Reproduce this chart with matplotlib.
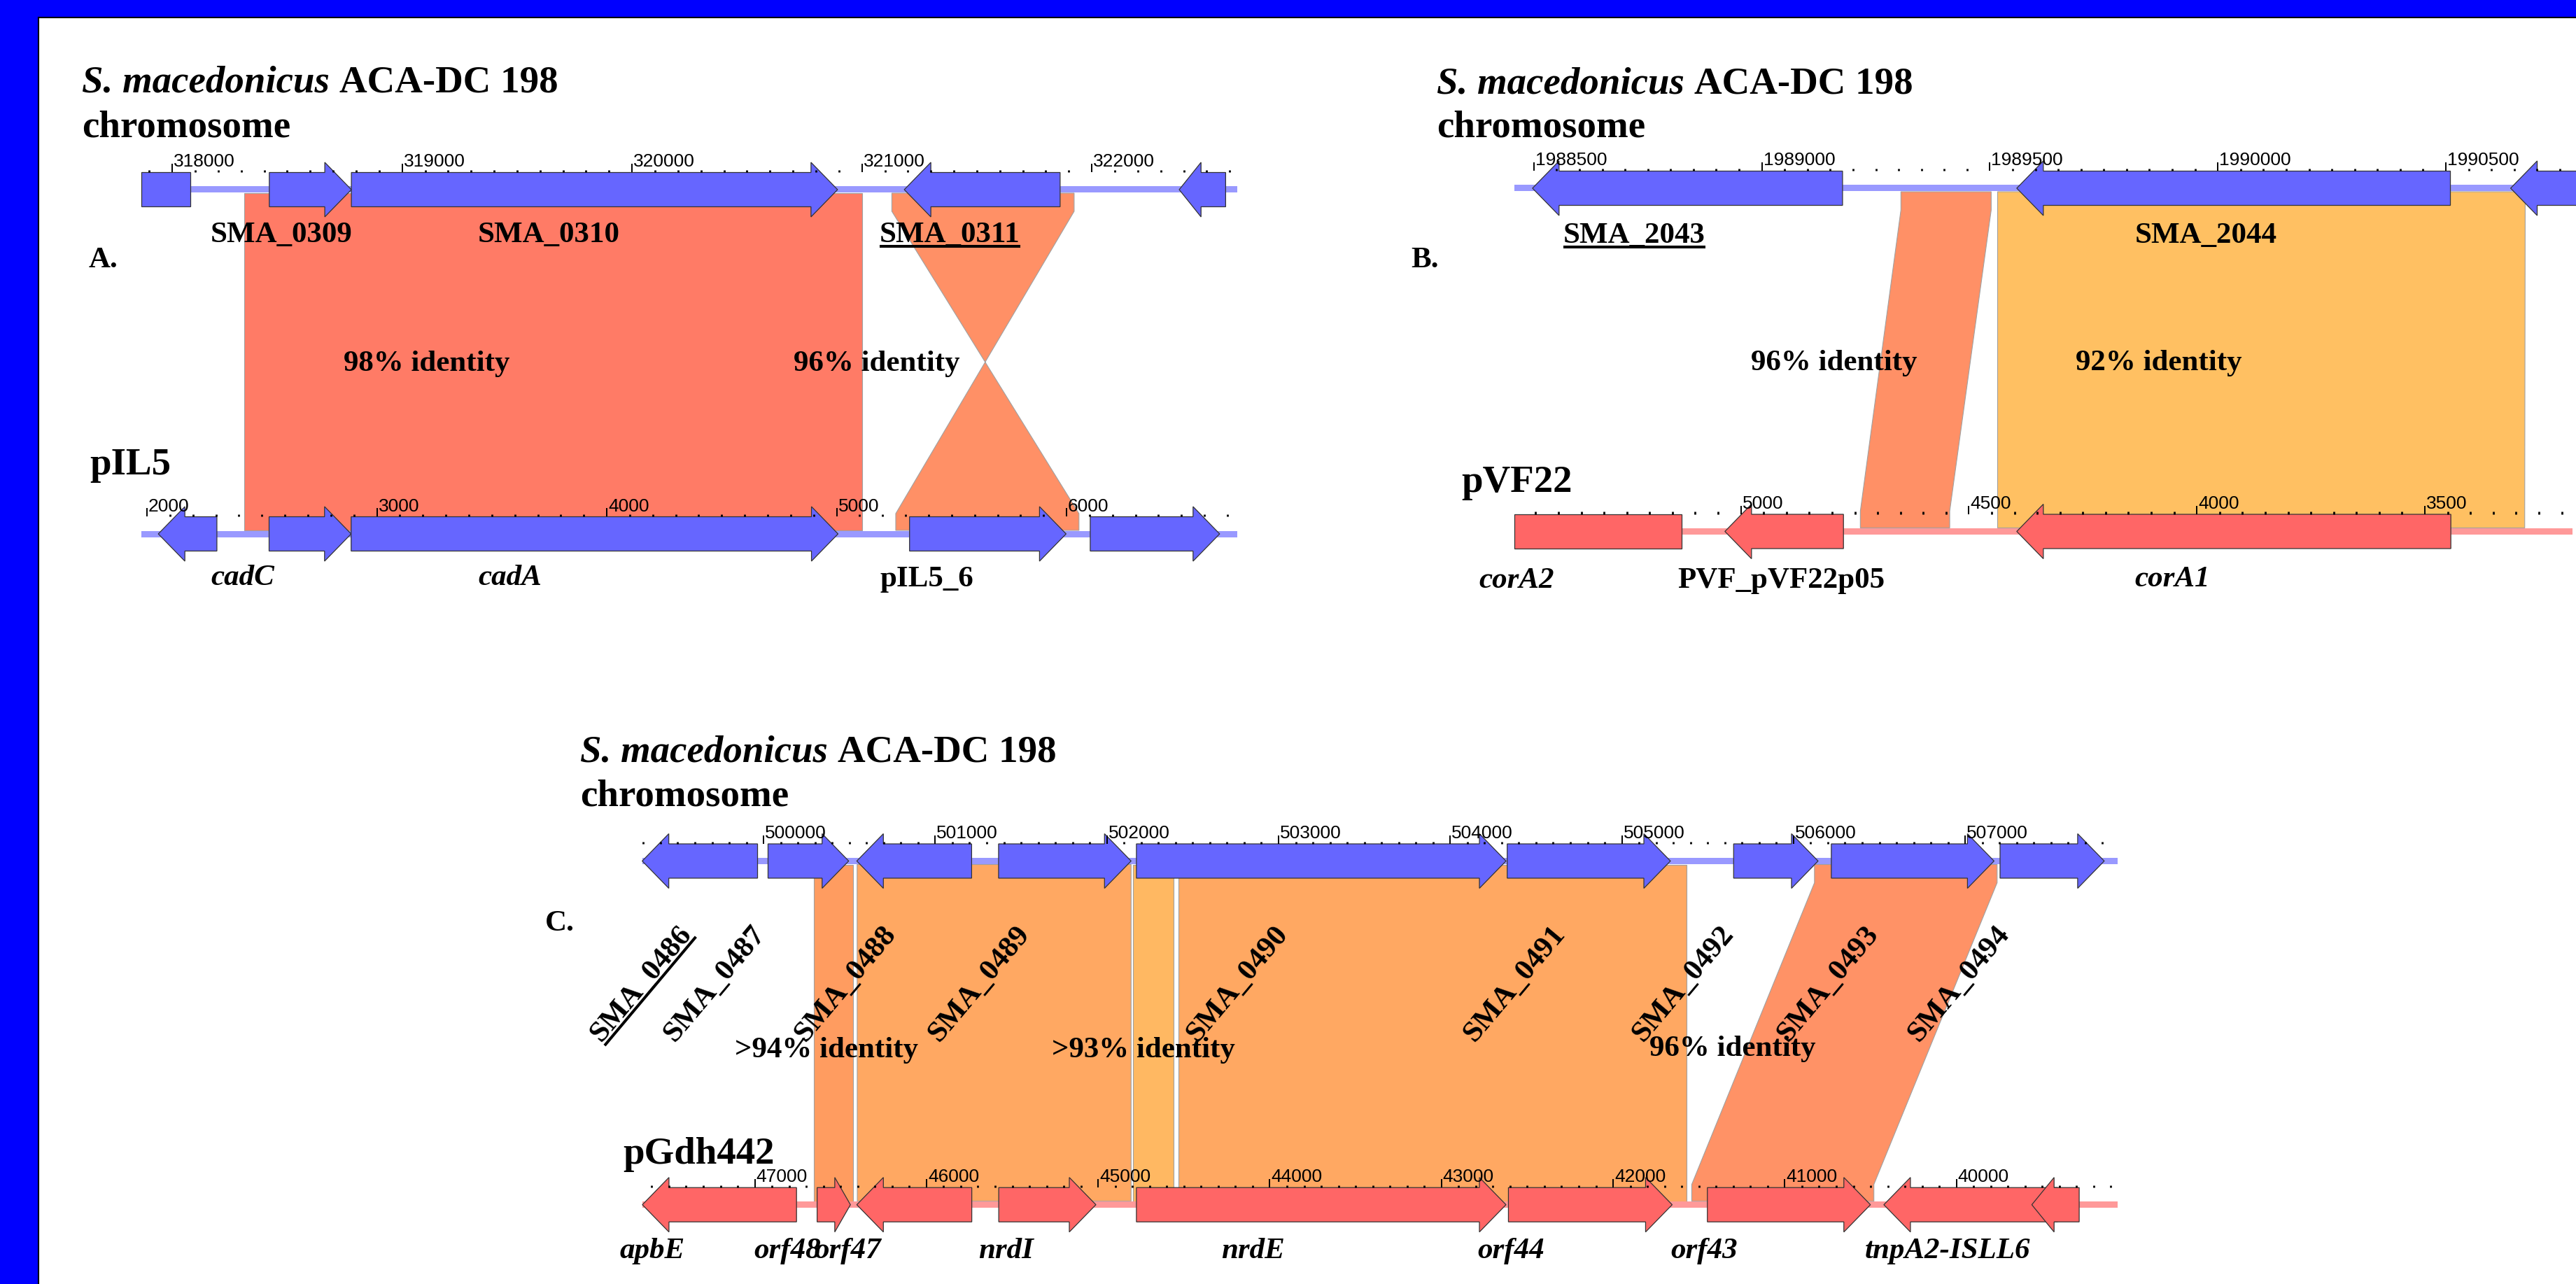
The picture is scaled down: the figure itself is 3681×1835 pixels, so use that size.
import numpy as np
import matplotlib
matplotlib.use('Agg')
import matplotlib.pyplot as plt
from matplotlib.patches import Polygon, Rectangle

W, H = 3681, 1835
plt.rcParams['font.family'] = ['Liberation Serif', 'DejaVu Serif']

# ---------------- data: gene (from, tip, kind) in each sequence's own bp ----------------
# A. S. macedonicus chromosome vs pIL5
A_top_genes = [(317866, 318080, 'box'), (318422, 318779, 'arrow'), (318779, 320894, 'arrow'),
               (321862, 321184, 'arrow'), (322582, 322380, 'arrow')]
A_top_backbone = (317866, 322632)
A_bot_genes = [(2304, 2049, 'arrow'), (2531, 2888, 'arrow'), (2888, 5006, 'arrow'),
               (5317, 5998, 'arrow'), (6103, 6666, 'arrow')]
A_bot_backbone = (1975, 6742)
A_matches_top = [(318313, 321001), (321130, 321923)]
A_matches_bot = [(2423, 5111), (6054, 5257)]
A_identity = ['98% identity', '96% identity']

# B. S. macedonicus chromosome vs pVF22 (plasmid drawn reversed)
B_top_genes = [(1989177, 1988497, 'arrow'), (1990510, 1989559, 'arrow'), (1990790, 1990642, 'arrow')]
B_top_backbone = (1988458, 1990790)
B_bot_genes = [(5496, 5130, 'box'), (4775, 5035, 'arrow'), (3443, 4395, 'arrow')]
B_bot_backbone = (3176, 5496)
B_matches_top = [(1989305, 1989503), (1989517, 1990674)]
B_matches_bot = [(4738, 4542), (4437, 3281)]
B_identity = ['96% identity', '92% identity']

# C. S. macedonicus chromosome vs pGdh442 (plasmid drawn reversed)
C_top_genes = [(499965, 499293, 'arrow'), (500026, 500496, 'arrow'), (501212, 500543, 'arrow'),
               (501369, 502141, 'arrow'), (502172, 504325, 'arrow'), (504332, 505283, 'arrow'),
               (505651, 506143, 'arrow'), (506220, 507168, 'arrow'), (507203, 507810, 'arrow')]
C_top_backbone = (499293, 507887)
C_bot_genes = [(46757, 47655, 'arrow'), (46637, 46443, 'arrow'), (45736, 46406, 'arrow'),
               (45579, 45013, 'arrow'), (44777, 42624, 'arrow'), (42610, 41656, 'arrow'),
               (41451, 40501, 'arrow'), (39411, 40423, 'arrow'), (39285, 39561, 'arrow')]
C_bot_backbone = (39063, 47655)
C_matches_top = [(500293, 500522), (500545, 502141), (502153, 502387), (502417, 505378), (506122, 507186)]
C_matches_bot = [(46656, 46427), (46403, 44808), (44796, 44562), (44532, 41571), (41542, 40481)]
C_identity = ['>94% identity', '>93% identity', '96% identity']

# ---------------- style ----------------
BLUE, BLUE_LINE = '#6666FF', '#9999FF'
RED, RED_LINE = '#FF6666', '#FF9999'
BOX, HEADH, HEAD_PX = 24.5, 39, 38
LAB, BIG, TICK = 31, 39.5, 19

fig = plt.figure(figsize=(W / 100, H / 100), dpi=100)
ov = fig.add_axes([0, 0, 1, 1])
ov.set_xlim(0, W)
ov.set_ylim(H, 0)
ov.axis('off')
ov.set_zorder(5)
ov.patch.set_alpha(0)
rend = fig.canvas.get_renderer()


def panel_axes(x0, b0, scale):
    ax = fig.add_axes([0, 0, 1, 1])
    ax.set_xlim(b0 - x0 / scale, b0 + (W - x0) / scale)
    ax.set_ylim(H, 0)
    ax.axis('off')
    ax.patch.set_alpha(0)
    return ax


def draw_gene(ax, a, b, kind, yc, fc, scale):
    if kind == 'box':
        lo, hi = min(a, b), max(a, b)
        verts = [(lo, yc - BOX), (hi, yc - BOX), (hi, yc + BOX), (lo, yc + BOX)]
    else:
        head = min(HEAD_PX / scale, 0.47 * abs(b - a))
        n = b - head if b > a else b + head
        verts = [(a, yc - BOX), (n, yc - BOX), (n, yc - HEADH), (b, yc),
                 (n, yc + HEADH), (n, yc + BOX), (a, yc + BOX)]
    ax.add_patch(Polygon(verts, closed=True, fc=fc, ec='#333333', lw=0.9, zorder=3))


def draw_track(ax, genes, backbone, yc, fc, lc, scale, conv):
    lo, hi = sorted(conv(v) for v in backbone)
    ax.add_patch(Rectangle((lo, yc - 4.5), hi - lo, 9, fc=lc, ec='none', zorder=2))
    for a, b, kind in genes:
        draw_gene(ax, conv(a), conv(b), kind, yc, fc, scale)


def draw_ruler(ax, backbone, y, minor, major, scale, conv):
    lo, hi = min(backbone), max(backbone)
    for v in np.arange(np.ceil(lo / minor) * minor, hi + 1, minor):
        x = conv(v)
        if v % major == 0:
            ax.plot([x, x], [y - 12, y], color='black', lw=1.4, zorder=6, solid_capstyle='butt')
            ax.text(x + 2 / scale, y - 8, '%d' % v, fontsize=TICK, family='Liberation Sans',
                    ha='left', va='baseline', zorder=7)
        else:
            ax.plot([x, x], [y - 3.5, y], color='black', lw=2.0, zorder=6, solid_capstyle='butt')


def draw_match(ax, t, b, yt, yb, color):
    t1, t2 = t
    b1, b2 = b
    verts = [(t1, yt + 5), (t2, yt + 5), (t2, yt + 31), (b2, yb - 29), (b2, yb - 5),
             (b1, yb - 5), (b1, yb - 29), (t1, yt + 31)]
    ax.add_patch(Polygon(verts, closed=True, fc=color, ec='#A0A0A0', lw=0.8, zorder=1))


def label(x, y, s, size=LAB, style='normal', underline=False, rot=0):
    t = ov.text(x, y, s, fontsize=size, fontweight='bold', fontstyle=style,
                ha='left', va='baseline', zorder=10)
    if underline:
        w = t.get_window_extent(rend).width
        c, sn = np.cos(np.radians(rot)), np.sin(np.radians(rot))
        x0, y0 = x + 6.5 * sn, y + 6.5 * c
        ov.plot([x0, x0 + w * c], [y0, y0 - w * sn], color='black', lw=2.9, zorder=10,
                solid_capstyle='butt')
    if rot:
        t.set_rotation(rot)
        t.set_rotation_mode('anchor')
    return t


def title(x, y):
    t = label(x, y, 'S. macedonicus ', size=BIG, style='italic')
    w = t.get_window_extent(rend).width
    label(x + w, y, 'ACA-DC 198', size=BIG)
    label(x, y + 63, 'chromosome', size=BIG)


def panel(x0, b0, scale, yt, yb, top, bot, minor, major, bot_fc, bot_lc, bot_conv,
          mt, mb, mcolors):
    ax = panel_axes(x0, b0, scale)
    same = lambda v: v
    for (a, b), (c, d), col in zip(mt, mb, mcolors):
        draw_match(ax, (a, b), (bot_conv(c), bot_conv(d)), yt, yb, col)
    draw_track(ax, top[0], top[1], yt, BLUE, BLUE_LINE, scale, same)
    draw_track(ax, bot[0], bot[1], yb, bot_fc, bot_lc, scale, bot_conv)
    draw_ruler(ax, top[1], yt - BOX, minor, major, scale, same)
    draw_ruler(ax, bot[1], yb - BOX, minor, major, scale, bot_conv)
    return ax


# ---------------- panel A ----------------
panel(246.2, 318000, 0.3285, 271, 763, (A_top_genes, A_top_backbone), (A_bot_genes, A_bot_backbone),
      100, 1000, BLUE, BLUE_LINE, lambda p: p + 315890,
      A_matches_top, A_matches_bot, ['#FF7B66', '#FF9066'])
title(117, 132)
label(127, 382, 'A.')
label(301, 346, 'SMA_0309')
label(683, 346, 'SMA_0310')
label(1257, 346, 'SMA_0311', underline=True)
label(491, 530, A_identity[0])
label(1134, 530, A_identity[1])
label(128, 678, 'pIL5', size=BIG)
label(301, 836, 'cadC', style='italic')
label(683, 836, 'cadA', style='italic')
label(1257, 838, 'pIL5_6')

# ---------------- panel B ----------------
panel(2191.8, 1988500, 0.6516, 269, 759.5, (B_top_genes, B_top_backbone), (B_bot_genes, B_bot_backbone),
      50, 500, RED, RED_LINE, lambda p: 1993954 - p,
      B_matches_top, B_matches_bot, ['#FF9066', '#FFC062'])
title(2053, 133)
label(2016, 382, 'B.')
label(2234, 347, 'SMA_2043', underline=True)
label(3051, 347, 'SMA_2044')
label(2502, 529, B_identity[0])
label(2966, 529, B_identity[1])
label(2088, 703, 'pVF22', size=BIG)
label(2113, 840, 'corA2', style='italic')
label(2397, 840, 'PVF_pVF22p05')
label(3050, 838, 'corA1', style='italic')

# ---------------- panel C ----------------
panel(1091.1, 500000, 0.2453, 1230.5, 1721.7, (C_top_genes, C_top_backbone), (C_bot_genes, C_bot_backbone),
      100, 1000, RED, RED_LINE, lambda p: 546949 - p,
      C_matches_top, C_matches_bot, ['#FF9C60', '#FFA862', '#FFB862', '#FFA862', '#FF9266'])
title(829, 1088)
label(779, 1330, 'C.')
C_top_names = ['SMA_0486', 'SMA_0487', 'SMA_0488', 'SMA_0489', 'SMA_0490',
               'SMA_0491', 'SMA_0492', 'SMA_0493', 'SMA_0494']
C_name_x = [859, 964, 1151, 1342, 1711, 2107, 2348, 2555, 2742]
for i, (nm, x) in enumerate(zip(C_top_names, C_name_x)):
    label(x, 1490, nm, rot=50, underline=(i == 0))
label(1050, 1511, C_identity[0])
label(1503, 1511, C_identity[1])
label(2357, 1509, C_identity[2])
label(890, 1663, 'pGdh442', size=BIG)
C_bot_names = ['apbE', 'orf48', 'orf47', 'nrdI', 'nrdE', 'orf44', 'orf43', 'tnpA2-ISLL6']
C_bot_x = [886, 1077, 1163, 1398, 1745, 2111, 2387, 2665]
for nm, x in zip(C_bot_names, C_bot_x):
    label(x, 1798, nm, style='italic')

# ---------------- frame ----------------
ov.add_patch(Rectangle((0, 0), W, 24, fc='#0000FF', ec='none', zorder=20))
ov.add_patch(Rectangle((0, 0), 54, H, fc='#0000FF', ec='none', zorder=20))
ov.plot([55, 55], [25, H], color='black', lw=1.5, zorder=21)
ov.plot([55, W], [25, 25], color='black', lw=1.5, zorder=21)

fig.savefig('out.png', dpi=100)
